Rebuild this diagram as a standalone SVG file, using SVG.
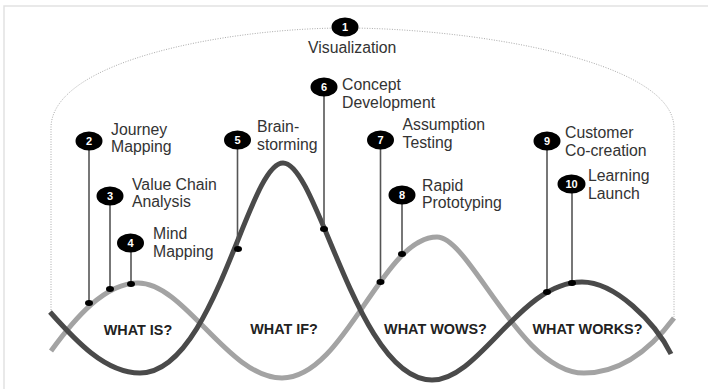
<svg xmlns="http://www.w3.org/2000/svg" width="708" height="389" viewBox="0 0 708 389">
<defs>
<style>
.lbl{font-family:"Liberation Sans",Arial,sans-serif;font-size:15.8px;fill:#333}
.ph{font-family:"Liberation Sans",Arial,sans-serif;font-size:14.4px;font-weight:bold;fill:#222;text-anchor:middle}
.num{font-family:"Liberation Sans",Arial,sans-serif;font-size:11px;font-weight:bold;fill:#fff;text-anchor:middle}
.badge{fill:#000}
.stem{stroke:#555;stroke-width:1.6;fill:none}
.dot{fill:#000}
.dark{stroke:#4a4a4a;stroke-width:5;fill:none;stroke-linecap:butt}
.light{stroke:#a3a3a3;stroke-width:5;fill:none;stroke-linecap:butt}
.dotted{stroke:#aaa;stroke-width:1;fill:none;stroke-dasharray:1 1.5}
.frame{stroke:#e2e2e2;stroke-width:1.5;fill:none}
</style>
</defs>
<rect width="708" height="389" fill="#fff"/>
<path class="frame" d="M4,389 V6 H708"/>
<g id="curves">
<path class="dotted" d="M51,310 V128 C51,60 230,28 345,28 C470,28 674,60 674,128 V317"/>
<path class="light" d="M51,351 C75,318 105,283 138,283 C185,283 228,378 282,378 C345,378 382,237 437,237 C470,237 520,373 584,373 C620,373 650,350 674,318"/>
<path class="dark" d="M50,312 C75,340 105,373 140,373 C215,373 248,163 283,163 C318,163 357,380 432,380 C480,380 520,282 582,282 C615,282 655,322 671,354"/>
</g>
<g id="connectors">
<line class="stem" x1="89" y1="141" x2="89" y2="303"/>
<line class="stem" x1="110" y1="196" x2="110" y2="289"/>
<line class="stem" x1="131" y1="243" x2="131" y2="284"/>
<line class="stem" x1="237.5" y1="140" x2="237.5" y2="249"/>
<line class="stem" x1="324" y1="87" x2="324" y2="229"/>
<line class="stem" x1="380.5" y1="140" x2="380.5" y2="282"/>
<line class="stem" x1="402" y1="195" x2="402" y2="254"/>
<line class="stem" x1="547" y1="141" x2="547" y2="292"/>
<line class="stem" x1="572" y1="184" x2="572" y2="283"/>
<ellipse class="dot" cx="89" cy="303" rx="4" ry="3"/>
<ellipse class="dot" cx="110" cy="289" rx="4" ry="3"/>
<ellipse class="dot" cx="131" cy="284" rx="4" ry="3"/>
<ellipse class="dot" cx="238" cy="249" rx="4" ry="3"/>
<ellipse class="dot" cx="324" cy="229" rx="4" ry="3"/>
<ellipse class="dot" cx="380.5" cy="282" rx="4" ry="3"/>
<ellipse class="dot" cx="402" cy="254" rx="4" ry="3"/>
<ellipse class="dot" cx="547" cy="292" rx="4" ry="3"/>
<ellipse class="dot" cx="572" cy="283" rx="4" ry="3"/>
</g>
<g id="n1"><ellipse class="badge" cx="345" cy="27" rx="13.5" ry="9.5"/><text class="num" x="345" y="31">1</text><text class="lbl" x="308" y="52.5">Visualization</text></g>
<g id="n2"><ellipse class="badge" cx="89" cy="141" rx="13.5" ry="9.5"/><text class="num" x="89" y="145">2</text><text class="lbl" x="111"><tspan x="111" y="135">Journey</tspan><tspan x="111" y="152">Mapping</tspan></text></g>
<g id="n3"><ellipse class="badge" cx="110" cy="196" rx="13.5" ry="9.5"/><text class="num" x="110" y="200">3</text><text class="lbl"><tspan x="132" y="189.5">Value Chain</tspan><tspan x="132" y="207">Analysis</tspan></text></g>
<g id="n4"><ellipse class="badge" cx="130.5" cy="243" rx="13.5" ry="9.5"/><text class="num" x="130.5" y="247">4</text><text class="lbl"><tspan x="153" y="239">Mind</tspan><tspan x="153" y="257">Mapping</tspan></text></g>
<g id="n5"><ellipse class="badge" cx="237.5" cy="140" rx="13.5" ry="9.5"/><text class="num" x="237.5" y="144">5</text><text class="lbl"><tspan x="257" y="131.5">Brain-</tspan><tspan x="257" y="149.5">storming</tspan></text></g>
<g id="n6"><ellipse class="badge" cx="324" cy="87" rx="13.5" ry="9.5"/><text class="num" x="324" y="91">6</text><text class="lbl"><tspan x="342" y="90">Concept</tspan><tspan x="342" y="107.5">Development</tspan></text></g>
<g id="n7"><ellipse class="badge" cx="380.5" cy="140" rx="13.5" ry="9.5"/><text class="num" x="380.5" y="144">7</text><text class="lbl"><tspan x="402.5" y="130">Assumption</tspan><tspan x="402.5" y="147.5">Testing</tspan></text></g>
<g id="n8"><ellipse class="badge" cx="402" cy="195" rx="13.5" ry="9.5"/><text class="num" x="402" y="199">8</text><text class="lbl"><tspan x="422" y="191">Rapid</tspan><tspan x="422" y="208">Prototyping</tspan></text></g>
<g id="n9"><ellipse class="badge" cx="547" cy="141" rx="13.5" ry="9.5"/><text class="num" x="547" y="145">9</text><text class="lbl"><tspan x="565" y="137.5">Customer</tspan><tspan x="565" y="156">Co-creation</tspan></text></g>
<g id="n10"><ellipse class="badge" cx="571.5" cy="184" rx="14" ry="9.5"/><text class="num" x="571.5" y="188">10</text><text class="lbl"><tspan x="588" y="181">Learning</tspan><tspan x="588" y="198.5">Launch</tspan></text></g>
<g id="p1"><text class="ph" x="138" y="334.5">WHAT IS?</text></g>
<g id="p2"><text class="ph" x="284" y="334">WHAT IF?</text></g>
<g id="p3"><text class="ph" x="435.5" y="334">WHAT WOWS?</text></g>
<g id="p4"><text class="ph" x="587.5" y="334">WHAT WORKS?</text></g>
</svg>
